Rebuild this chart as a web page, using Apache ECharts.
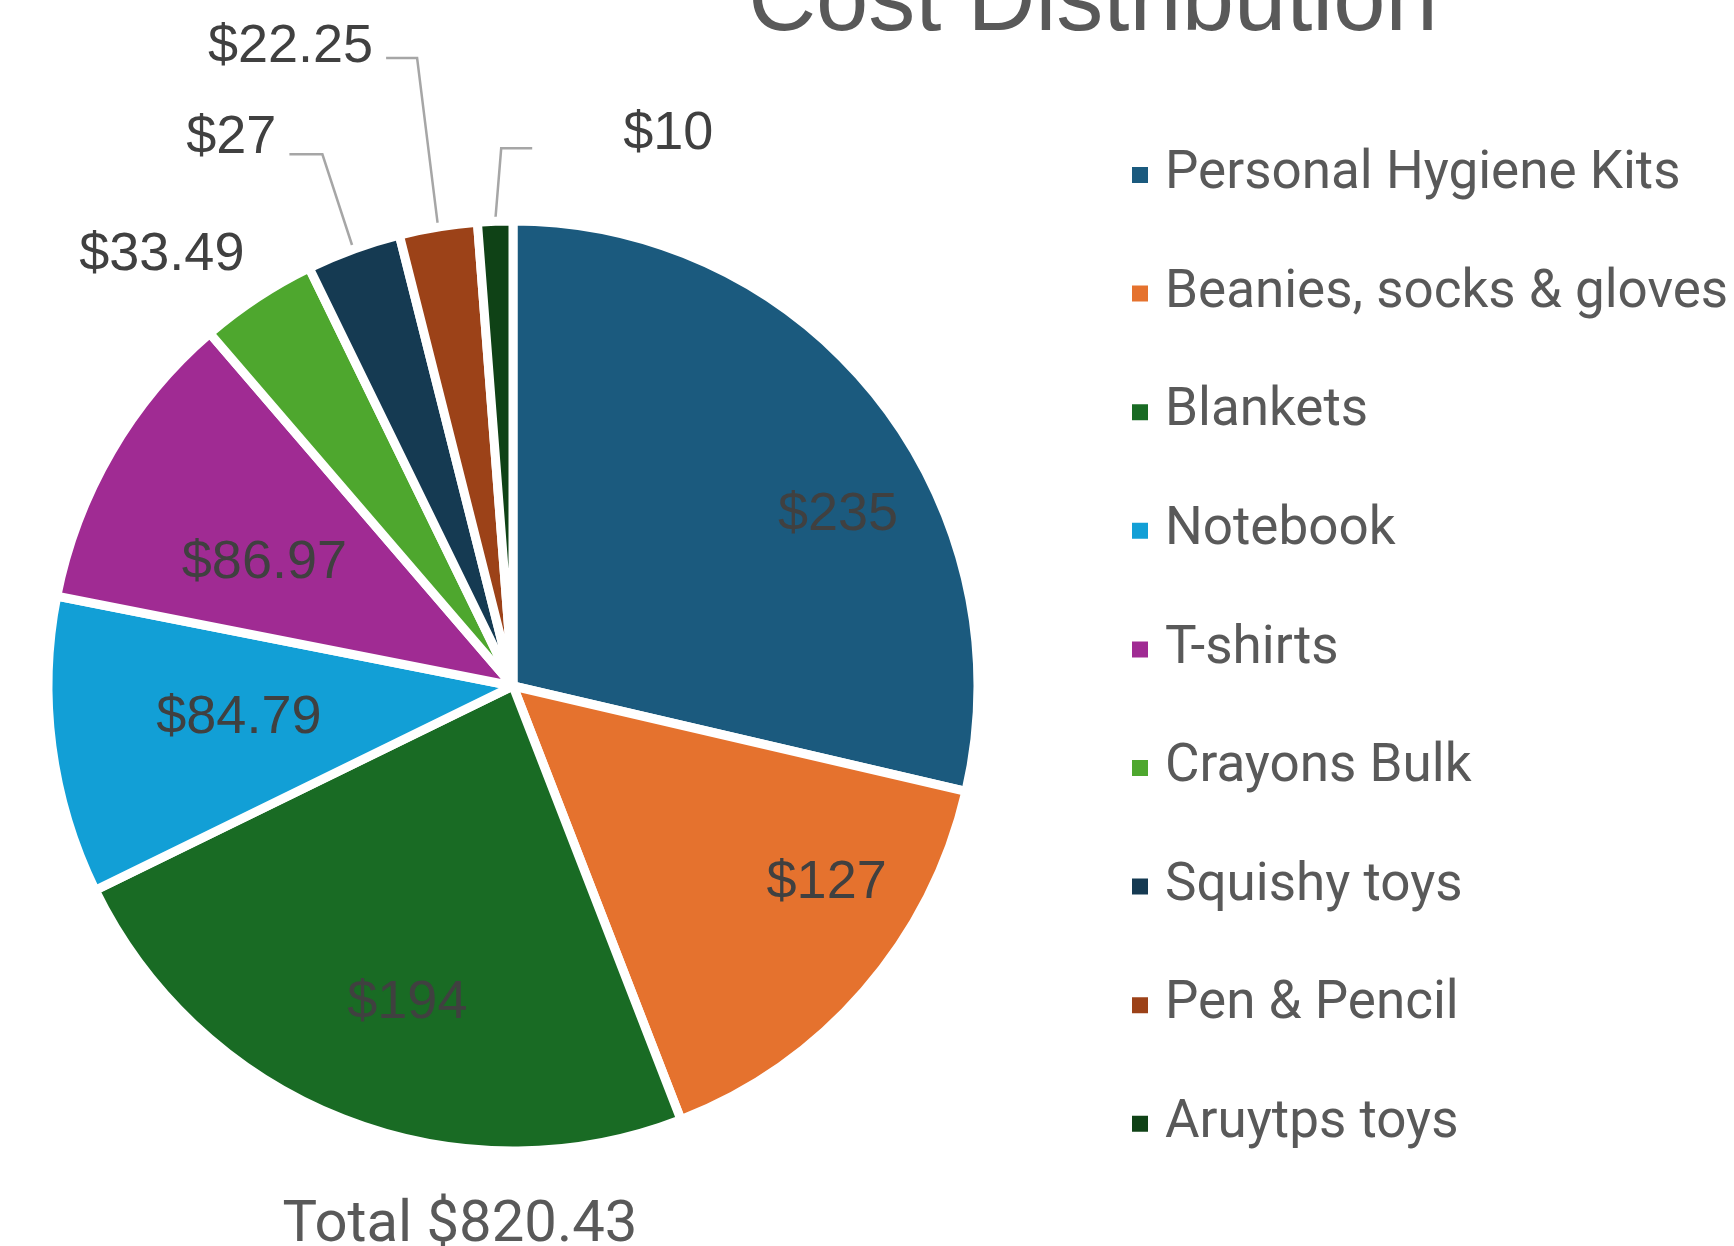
<!DOCTYPE html>
<html>
<head>
<meta charset="utf-8">
<script src="https://cdn.jsdelivr.net/npm/echarts@6/dist/echarts.min.js"></script>
<style>
html,body{margin:0;padding:0;background:#fff;}
#chart{width:1734px;height:1246px;}
</style>
</head>
<body>
<div id="chart"></div>
<script>
// ---- data ----
const categories = ['Personal Hygiene Kits', 'Beanies, socks & gloves', 'Blankets', 'Notebook', 'T-shirts', 'Crayons Bulk', 'Squishy toys', 'Pen & Pencil', 'Aruytps toys'];
const costs = [235, 127, 194, 84.79, 86.97, 33.49, 27, 22.25, 10];
const titleText = 'Cost Distribution';
const totalText = 'Total $820.43';

// ---- style ----
const colors = ['#1B5A7E', '#E5722E', '#196B24', '#129FD6', '#A02B93', '#4EA72E', '#153A52', '#9C4218', '#0F4216'];
const CX = 513, CY = 686, R = 465;
// inside labels: [radius fraction, angle offset in degrees, extra dx, extra dy]
const insideLabel = {0: [0.79, -10, 2, 4], 1: [0.79, 9, 2, 3], 2: [0.72, 1, 11, 3], 3: [0.61, -1.5, 8, 3], 4: [0.62, 1, 3, 18]};
// outside labels: offsets relative to the slice's outer edge point
const outsideLabel = {
  5: {label: [-13, -42], align: 'right', line: false},
  6: {elbow: [-31, -95], end: [-64, -95], label: [-77, -111], align: 'right', line: true},
  7: {elbow: [-21, -169], end: [-52, -169], label: [-65, -180], align: 'right', line: true},
  8: {elbow: [6, -73], end: [37, -73], label: [128, -87], align: 'left', line: true}
};

const total = costs.reduce((a, b) => a + b, 0);
const midAngles = [];
let acc = 0;
costs.forEach(v => {
  const a0 = 90 - acc / total * 360;
  acc += v;
  const a1 = 90 - acc / total * 360;
  midAngles.push((a0 + a1) / 2);
});

const seriesData = categories.map((name, i) => {
  const outside = outsideLabel[i];
  return {
    name: name,
    value: costs[i],
    itemStyle: {color: colors[i]},
    label: {position: outside ? 'outside' : 'inside'},
    labelLine: {show: !!(outside && outside.line)}
  };
});

const chart = echarts.init(document.getElementById('chart'), null, {renderer: 'canvas'});
chart.setOption({
  animation: false,
  backgroundColor: '#ffffff',
  legend: {
    orient: 'vertical',
    left: 1130,
    top: 145,
    padding: 0,
    itemGap: 58.6,
    itemWidth: 18,
    itemHeight: 18,
    icon: 'rect',
    data: categories,
    textStyle: {fontFamily: 'Roboto', fontSize: 53, color: '#595959', lineHeight: 60, padding: [0, 0, 0, 11]}
  },
  graphic: [
    {type: 'text', style: {text: titleText, x: 1093, y: 4, align: 'center', verticalAlign: 'middle', font: '94px "Liberation Sans", Arial, sans-serif', fill: '#595959'}},
    {type: 'text', style: {text: totalText, x: 460, y: 1226, align: 'center', verticalAlign: 'middle', font: '58px Roboto, sans-serif', fill: '#595959'}}
  ],
  series: [{
    type: 'pie',
    center: [CX, CY],
    radius: [0, R],
    startAngle: 90,
    clockwise: true,
    avoidLabelOverlap: false,
    itemStyle: {borderColor: '#ffffff', borderWidth: 9},
    label: {
      formatter: p => '$' + p.value,
      fontFamily: '"Liberation Sans", Arial, sans-serif',
      fontSize: 54,
      color: '#404040'
    },
    labelLine: {lineStyle: {color: '#A6A6A6', width: 2.5}},
    labelLayout: function (p) {
      const i = p.dataIndex;
      const rad = midAngles[i] * Math.PI / 180;
      if (insideLabel[i]) {
        const s = insideLabel[i];
        const a = rad + s[1] * Math.PI / 180;
        return {x: CX + R * s[0] * Math.cos(a) + s[2], y: CY - R * s[0] * Math.sin(a) + s[3], align: 'center', verticalAlign: 'middle'};
      }
      const o = outsideLabel[i];
      const ex = CX + R * Math.cos(rad), ey = CY - R * Math.sin(rad);
      const res = {x: ex + o.label[0], y: ey + o.label[1], align: o.align, verticalAlign: 'middle'};
      if (o.line) {
        res.labelLinePoints = [[ex, ey], [ex + o.elbow[0], ey + o.elbow[1]], [ex + o.end[0], ey + o.end[1]]];
      }
      return res;
    },
    data: seriesData
  }]
});
</script>
</body>
</html>
